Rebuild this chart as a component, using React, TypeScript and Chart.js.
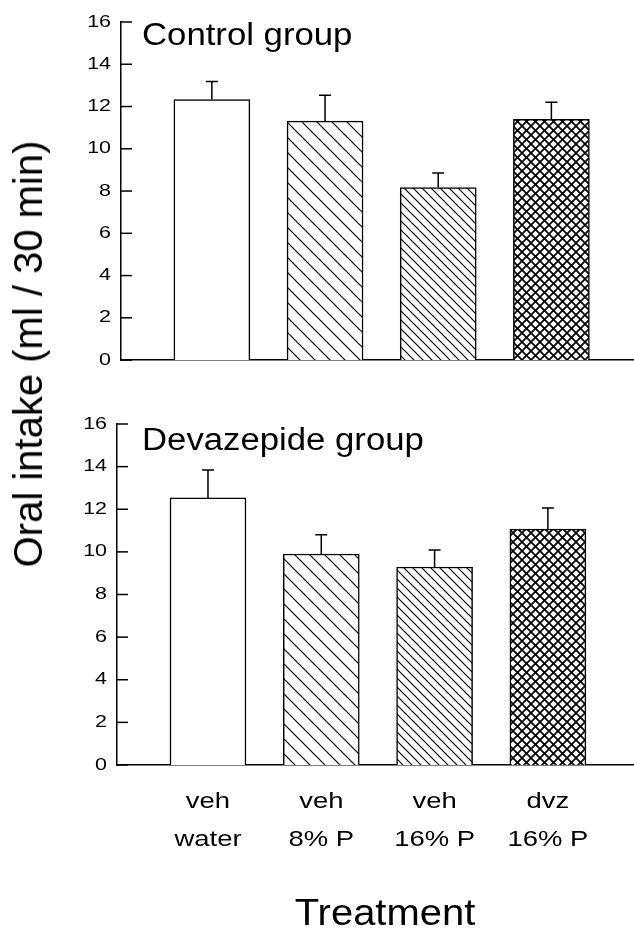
import React, { useEffect, useRef } from 'react';
import { Chart, registerables } from 'chart.js';

Chart.register(...registerables);

// ---- data ----
const treatmentLabels: string[][] = [
  ['veh', 'water'],
  ['veh', '8% P'],
  ['veh', '16% P'],
  ['dvz', '16% P'],
];
const barPositions = [1, 2, 3, 4];
const controlMeans = [12.33, 11.31, 8.17, 11.39];
const controlSEM = [0.85, 1.22, 0.68, 0.81];
const devazepideMeans = [12.53, 9.9, 9.29, 11.07];
const devazepideSEM = [1.31, 0.9, 0.8, 0.99];
const fillKinds = ['none', 'wide', 'dense', 'cross'];
const yMin = 0;
const yMax = 16;
const yStep = 2;

const FONT = '"Liberation Sans", Arial, Helvetica, sans-serif';

function makePattern(kind: string): CanvasPattern | string {
  if (kind === 'none') return '#ffffff';
  const p = kind === 'wide' ? 15 : 9;
  const c = document.createElement('canvas');
  c.width = p;
  c.height = p;
  const g = c.getContext('2d')!;
  g.fillStyle = '#ffffff';
  g.fillRect(0, 0, p, p);
  g.strokeStyle = '#000000';
  g.lineWidth = kind === 'cross' ? 1.7 : 1.2;
  const back = () => {
    g.beginPath();
    g.moveTo(-p, 0); g.lineTo(p, 2 * p);
    g.moveTo(0, 0); g.lineTo(p, p);
    g.moveTo(0, -p); g.lineTo(2 * p, p);
    g.stroke();
  };
  const fwd = () => {
    g.beginPath();
    g.moveTo(0, p); g.lineTo(p, 0);
    g.moveTo(-p, p); g.lineTo(p, -p);
    g.moveTo(0, 2 * p); g.lineTo(2 * p, 0);
    g.stroke();
  };
  back();
  if (kind === 'cross') fwd();
  return g.createPattern(c, 'repeat')!;
}

// draw text horizontally stretched about its anchor point
function stretchedFill(ctx: CanvasRenderingContext2D, orig: any, sx: number) {
  return function (t: string, x: number, y: number) {
    ctx.save();
    ctx.translate(x, y);
    ctx.scale(sx, 1);
    orig.call(ctx, t, 0, 0);
    ctx.restore();
  };
}

function wrapScaleLabels(scale: any, sx: number) {
  if (!scale || scale.__wrapped) return;
  const origDraw = scale.drawLabels.bind(scale);
  scale.drawLabels = (area: any) => {
    const ctx = scale.ctx as any;
    const proto = CanvasRenderingContext2D.prototype.fillText;
    ctx.fillText = stretchedFill(ctx, proto, sx);
    try {
      origDraw(area);
    } finally {
      delete ctx.fillText;
    }
  };
  scale.__wrapped = true;
}

interface PanelCfg {
  means: number[];
  sem: number[];
  title: string;
  titleX: number;
  titleY: number;
  axisLeft: number;
  padTop: number;
  xAxisHeight: number;
  xMin: number;
  xMax: number;
  showLabels: boolean;
}

function makePanelPlugin(cfg: PanelCfg) {
  return {
    id: 'panelExtras',
    beforeDraw(chart: any) {
      wrapScaleLabels(chart.scales.y, 1.3);
      wrapScaleLabels(chart.scales.x, 1.22);
    },
    afterDatasetsDraw(chart: any) {
      const { ctx, chartArea, scales } = chart;
      const xs = scales.x;
      const ys = scales.y;
      ctx.save();
      ctx.strokeStyle = '#000';
      ctx.lineWidth = 1.5;
      // error bars (upper only)
      cfg.means.forEach((m, i) => {
        const px = xs.getPixelForValue(barPositions[i]);
        const base = ys.getPixelForValue(m);
        const top = ys.getPixelForValue(m + cfg.sem[i]);
        ctx.beginPath();
        ctx.moveTo(px, base);
        ctx.lineTo(px, top);
        ctx.moveTo(px - 6, top);
        ctx.lineTo(px + 6, top);
        ctx.stroke();
      });
      // inward tick marks
      ys.ticks.forEach((t: any) => {
        const py = ys.getPixelForValue(t.value);
        ctx.beginPath();
        ctx.moveTo(chartArea.left, py);
        ctx.lineTo(chartArea.left + 11, py);
        ctx.stroke();
      });
      // panel label
      ctx.fillStyle = '#000';
      ctx.font = `31px ${FONT}`;
      ctx.textBaseline = 'alphabetic';
      ctx.textAlign = 'left';
      ctx.translate(cfg.titleX, cfg.titleY);
      ctx.scale(1.12, 1);
      ctx.fillText(cfg.title, 0, 0);
      ctx.restore();
    },
  };
}

function buildChart(canvas: HTMLCanvasElement, cfg: PanelCfg) {
  const patterns = fillKinds.map(makePattern);
  return new Chart(canvas, {
    type: 'bar',
    data: {
      datasets: [
        {
          data: cfg.means.map((m, i) => ({ x: barPositions[i], y: m })),
          backgroundColor: patterns as any,
          borderColor: '#000',
          borderWidth: 1.5,
          barThickness: 76,
        },
      ],
    },
    options: {
      responsive: false,
      animation: false,
      events: [],
      layout: { padding: { top: cfg.padTop, left: 0, right: 0, bottom: 0 } },
      plugins: {
        legend: { display: false },
        tooltip: { enabled: false },
        title: { display: false },
      },
      scales: {
        x: {
          type: 'linear',
          offset: false,
          min: cfg.xMin,
          max: cfg.xMax,
          grid: { display: false, drawTicks: false, offset: false },
          border: { display: true, color: '#000', width: 1.5 },
          afterBuildTicks: (scale: any) => {
            scale.ticks = barPositions.map((v) => ({ value: v }));
          },
          afterFit: (scale: any) => {
            scale.height = cfg.xAxisHeight;
          },
          ticks: {
            display: cfg.showLabels,
            autoSkip: false,
            maxRotation: 0,
            minRotation: 0,
            padding: 18,
            color: '#000',
            font: { family: FONT, size: 22.5, lineHeight: 38 / 22.5 },
            callback: (v: any) => {
              const i = barPositions.indexOf(Number(v));
              return i >= 0 ? treatmentLabels[i] : '';
            },
          },
        },
        y: {
          type: 'linear',
          min: yMin,
          max: yMax,
          grid: { display: false, drawTicks: false },
          border: { display: true, color: '#000', width: 1.5 },
          afterFit: (scale: any) => {
            scale.width = cfg.axisLeft;
          },
          ticks: {
            stepSize: yStep,
            padding: 10,
            color: '#000',
            font: { family: FONT, size: 16.5 },
          },
        },
      },
    },
    plugins: [makePanelPlugin(cfg)],
  } as any);
}

export default function App() {
  const topRef = useRef<HTMLCanvasElement>(null);
  const botRef = useRef<HTMLCanvasElement>(null);

  useEffect(() => {
    const c1 = buildChart(topRef.current!, {
      means: controlMeans,
      sem: controlSEM,
      title: 'Control group',
      titleX: 142,
      titleY: 45,
      axisLeft: 121,
      padTop: 22,
      xAxisHeight: 18,
      xMin: 0.197,
      xMax: 4.73,
      showLabels: false,
    });
    const c2 = buildChart(botRef.current!, {
      means: devazepideMeans,
      sem: devazepideSEM,
      title: 'Devazepide group',
      titleX: 142,
      titleY: 70,
      axisLeft: 117,
      padTop: 44,
      xAxisHeight: 165,
      xMin: 0.197,
      xMax: 4.76,
      showLabels: true,
    });
    return () => {
      c1.destroy();
      c2.destroy();
    };
  }, []);

  return (
    <div
      style={{
        position: 'absolute',
        left: 0,
        top: 0,
        width: 634,
        height: 930,
        overflow: 'hidden',
        background: '#fff',
        fontFamily: FONT,
      }}
    >
      <canvas
        ref={topRef}
        width={634}
        height={380}
        style={{ position: 'absolute', left: 0, top: 0, width: 634, height: 380 }}
      />
      <canvas
        ref={botRef}
        width={634}
        height={550}
        style={{ position: 'absolute', left: 0, top: 380, width: 634, height: 550 }}
      />
      <div
        style={{
          position: 'absolute',
          left: 28,
          top: 354,
          transform: 'translate(-50%, -50%) rotate(-90deg)',
          whiteSpace: 'nowrap',
          fontSize: 40,
          lineHeight: 1,
          color: '#000',
        }}
      >
        Oral intake (ml / 30 min)
      </div>
      <div
        style={{
          position: 'absolute',
          left: 385,
          top: 913,
          transform: 'translate(-50%, -50%) scaleX(1.11)',
          whiteSpace: 'nowrap',
          fontSize: 36,
          lineHeight: 1,
          color: '#000',
        }}
      >
        Treatment
      </div>
    </div>
  );
}
